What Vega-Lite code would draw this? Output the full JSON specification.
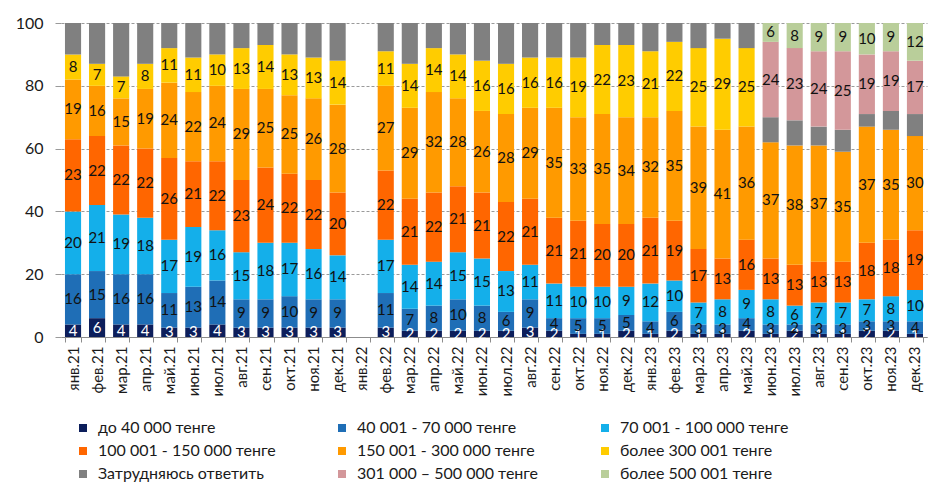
{
  "$schema": "https://vega.github.io/schema/vega-lite/v6.json",
  "width": 866,
  "height": 314,
  "autosize": "none",
  "padding": {"left": 61, "top": 23, "right": 16, "bottom": 154},
  "background": "white",
  "config": {"font": "Lato", "view": {"stroke": null}},
  "data": {
    "values": [
      {"m": "янв.21", "a": 4, "b": 16, "c": 20, "d": 23, "e": 19, "f": 8, "g": 10},
      {"m": "фев.21", "a": 6, "b": 15, "c": 21, "d": 22, "e": 16, "f": 7, "g": 13},
      {"m": "мар.21", "a": 4, "b": 16, "c": 19, "d": 22, "e": 15, "f": 7, "g": 17},
      {"m": "апр.21", "a": 4, "b": 16, "c": 18, "d": 22, "e": 19, "f": 8, "g": 13},
      {"m": "май.21", "a": 3, "b": 11, "c": 17, "d": 26, "e": 24, "f": 11, "g": 8},
      {"m": "июн.21", "a": 3, "b": 13, "c": 19, "d": 21, "e": 22, "f": 11, "g": 11},
      {"m": "июл.21", "a": 4, "b": 14, "c": 16, "d": 22, "e": 24, "f": 10, "g": 10},
      {"m": "авг.21", "a": 3, "b": 9, "c": 15, "d": 23, "e": 29, "f": 13, "g": 8},
      {"m": "сен.21", "a": 3, "b": 9, "c": 18, "d": 24, "e": 25, "f": 14, "g": 7},
      {"m": "окт.21", "a": 3, "b": 10, "c": 17, "d": 22, "e": 25, "f": 13, "g": 10},
      {"m": "ноя.21", "a": 3, "b": 9, "c": 16, "d": 22, "e": 26, "f": 13, "g": 11},
      {"m": "дек.21", "a": 3, "b": 9, "c": 14, "d": 20, "e": 28, "f": 14, "g": 12},
      {"m": "фев.22", "a": 3, "b": 11, "c": 17, "d": 22, "e": 27, "f": 11, "g": 9},
      {"m": "мар.22", "a": 2, "b": 7, "c": 14, "d": 21, "e": 29, "f": 14, "g": 13},
      {"m": "апр.22", "a": 2, "b": 8, "c": 14, "d": 22, "e": 32, "f": 14, "g": 8},
      {"m": "май.22", "a": 2, "b": 10, "c": 15, "d": 21, "e": 28, "f": 14, "g": 10},
      {"m": "июн.22", "a": 2, "b": 8, "c": 15, "d": 21, "e": 26, "f": 16, "g": 12},
      {"m": "июл.22", "a": 2, "b": 6, "c": 13, "d": 22, "e": 28, "f": 16, "g": 13},
      {"m": "авг.22", "a": 3, "b": 9, "c": 11, "d": 21, "e": 29, "f": 16, "g": 11},
      {"m": "сен.22", "a": 2, "b": 4, "c": 11, "d": 21, "e": 35, "f": 16, "g": 11},
      {"m": "окт.22", "a": 1, "b": 5, "c": 10, "d": 21, "e": 33, "f": 19, "g": 11},
      {"m": "ноя.22", "a": 1, "b": 5, "c": 10, "d": 20, "e": 35, "f": 22, "g": 7},
      {"m": "дек.22", "a": 2, "b": 5, "c": 9, "d": 20, "e": 34, "f": 23, "g": 7},
      {"m": "янв.23", "a": 1, "b": 4, "c": 12, "d": 21, "e": 32, "f": 21, "g": 9},
      {"m": "фев.23", "a": 2, "b": 6, "c": 10, "d": 19, "e": 35, "f": 22, "g": 6},
      {"m": "мар.23", "a": 1, "b": 3, "c": 7, "d": 17, "e": 39, "f": 25, "g": 8},
      {"m": "апр.23", "a": 1, "b": 3, "c": 8, "d": 13, "e": 41, "f": 29, "g": 5},
      {"m": "май.23", "a": 2, "b": 4, "c": 9, "d": 16, "e": 36, "f": 25, "g": 8},
      {"m": "июн.23", "a": 1, "b": 3, "c": 8, "d": 13, "e": 37, "g": 8, "h": 24, "i": 6},
      {"m": "июл.23", "a": 2, "b": 2, "c": 6, "d": 13, "e": 38, "g": 8, "h": 23, "i": 8},
      {"m": "авг.23", "a": 1, "b": 3, "c": 7, "d": 13, "e": 37, "g": 6, "h": 24, "i": 9},
      {"m": "сен.23", "a": 1, "b": 3, "c": 7, "d": 13, "e": 35, "g": 7, "h": 25, "i": 9},
      {"m": "окт.23", "a": 2, "b": 3, "c": 7, "d": 18, "e": 37, "g": 4, "h": 19, "i": 10},
      {"m": "ноя.23", "a": 2, "b": 3, "c": 8, "d": 18, "e": 35, "g": 6, "h": 19, "i": 9},
      {"m": "дек.23", "a": 1, "b": 4, "c": 10, "d": 19, "e": 30, "g": 7, "h": 17, "i": 12}
    ]
  },
  "transform": [
    {"fold": ["a", "b", "c", "d", "e", "f", "g", "h", "i"], "as": ["k", "v"]},
    {"filter": "isValid(datum.v)"},
    {"stack": "v", "groupby": ["m"], "sort": [{"field": "k", "order": "ascending"}], "as": ["v0", "v1"]},
    {"calculate": "(datum.v0 + datum.v1) / 2", "as": "mid"}
  ],
  "encoding": {
    "x": {
      "field": "m",
      "type": "nominal",
      "title": null,
      "scale": {
        "domain": ["янв.21", "фев.21", "мар.21", "апр.21", "май.21", "июн.21", "июл.21", "авг.21", "сен.21", "окт.21", "ноя.21", "дек.21",
                   "янв.22", "фев.22", "мар.22", "апр.22", "май.22", "июн.22", "июл.22", "авг.22", "сен.22", "окт.22", "ноя.22", "дек.22",
                   "янв.23", "фев.23", "мар.23", "апр.23", "май.23", "июн.23", "июл.23", "авг.23", "сен.23", "окт.23", "ноя.23", "дек.23"],
        "paddingInner": 0.33,
        "paddingOuter": 0.165
      },
      "axis": {
        "labelAngle": -90,
        "labelFontSize": 15,
        "labelColor": "#1a1a1a",
        "labelPadding": 4,
        "tickBand": "extent",
        "tickSize": 5,
        "tickColor": "#8c8c8c",
        "domainColor": "#8c8c8c",
        "grid": false
      }
    }
  },
  "layer": [
    {
      "mark": {"type": "bar"},
      "encoding": {
        "y": {
          "field": "v0",
          "type": "quantitative",
          "title": null,
          "scale": {"domain": [0, 100], "nice": false},
          "axis": {
            "values": [0, 10, 20, 30, 40, 50, 60, 70, 80, 90, 100],
            "labelFontSize": 16,
            "labelColor": "#1a1a1a",
            "labelPadding": 12,
            "domain": false,
            "tickSize": 6,
            "tickColor": "#9a9a9a",
            "gridColor": "#9a9a9a",
            "gridDash": [3, 2],
            "gridWidth": 1
          }
        },
        "y2": {"field": "v1"},
        "color": {
          "field": "k",
          "type": "nominal",
          "scale": {
            "domain": ["a", "b", "c", "d", "e", "f", "g", "h", "i"],
            "range": ["#0C1E5B", "#1F6EB6", "#14AFEA", "#FF6600", "#FF9A00", "#FFCC00", "#808080", "#D3979A", "#B9CE9A"]
          },
          "legend": {
            "orient": "none",
            "legendX": 14,
            "legendY": 397,
            "direction": "horizontal",
            "columns": 3,
            "title": null,
            "symbolType": "square",
            "symbolSize": 64,
            "symbolStrokeWidth": 0,
            "labelFontSize": 16,
            "labelColor": "#1a1a1a",
            "labelOffset": 7,
            "labelLimit": 400,
            "rowPadding": 7,
            "columnPadding": 58,
            "labelExpr": "{'a': 'до 40 000 тенге', 'b': '40 001 - 70 000 тенге\u2003\u2003\u2003\u2003\u2003\u2003\u2003\u2003', 'c': '70 001 - 100 000 тенге', 'd': '100 001 - 150 000 тенге', 'e': '150 001 - 300 000 тенге\u2003\u2003\u2003\u2003\u2003\u2003\u2003\u2003', 'f': 'более 300 001 тенге', 'g': 'Затрудняюсь ответить', 'h': '301 000 – 500 000 тенге\u2003\u2003\u2003\u2003\u2003\u2003\u2003\u2003', 'i': 'более 500 001 тенге'}[datum.label]"
          }
        }
      }
    },
    {
      "transform": [{"filter": "datum.k != 'g'"}],
      "mark": {"type": "text", "fontSize": 15, "baseline": "middle", "align": "center"},
      "encoding": {
        "y": {"field": "mid", "type": "quantitative"},
        "text": {"field": "v", "type": "quantitative"},
        "color": {"condition": {"test": "datum.k == 'a'", "value": "white"}, "value": "#111111"}
      }
    }
  ]
}
